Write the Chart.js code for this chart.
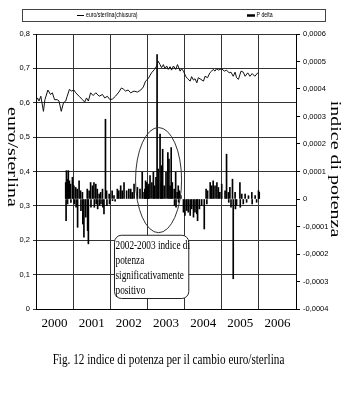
<!DOCTYPE html>
<html><head><meta charset="utf-8">
<script src="https://cdn.jsdelivr.net/npm/chart.js@4.4.1/dist/chart.umd.min.js"></script>
<style>html,body{margin:0;padding:0;background:#fff;}canvas{display:block;}</style>
</head><body>
<canvas id="c" width="360" height="400"></canvas>
<script>
const yearLabels = ['2000','2001','2002','2003','2004','2005','2006'];
const seriesNames = ['euro/sterlina(chiusura)', 'P delta'];
const leftTitle = 'euro/sterlina';
const rightTitle = 'indice di potenza';
const noteLines = ['2002-2003 indice di', 'potenza', 'significativamente', 'positivo'];
const captionText = 'Fig. 12 indice di potenza per il cambio euro/sterlina';

const euroDates = [2000.00,2000.04,2000.08,2000.13,2000.20,2000.24,2000.32,2000.39,2000.44,2000.50,
2000.57,2000.62,2000.68,2000.74,2000.80,2000.84,2000.90,2000.95,2001.02,2001.07,
2001.16,2001.25,2001.31,2001.36,2001.41,2001.47,2001.54,2001.61,2001.70,2001.79,
2001.85,2001.92,2001.99,2002.06,2002.14,2002.23,2002.30,2002.35,2002.41,2002.48,
2002.55,2002.64,2002.73,2002.82,2002.89,2002.95,2003.02,2003.11,2003.19,2003.25,
2003.29,2003.34,2003.38,2003.43,2003.47,2003.52,2003.56,2003.61,2003.65,2003.70,
2003.76,2003.81,2003.88,2003.92,2003.97,2004.03,2004.08,2004.15,2004.19,2004.24,
2004.28,2004.33,2004.37,2004.44,2004.51,2004.55,2004.62,2004.68,2004.73,2004.77,
2004.82,2004.86,2004.91,2005.00,2005.07,2005.13,2005.20,2005.25,2005.31,2005.36,
2005.40,2005.45,2005.52,2005.58,2005.63,2005.70,2005.76,2005.82,2005.89,2005.97,2006.00];
const euroValues = [0.605,0.614,0.605,0.619,0.575,0.609,0.637,0.624,0.629,0.609,
0.609,0.605,0.575,0.600,0.605,0.619,0.639,0.634,0.637,0.629,
0.619,0.609,0.602,0.614,0.605,0.629,0.621,0.629,0.619,0.624,
0.614,0.619,0.609,0.611,0.619,0.631,0.643,0.640,0.634,0.637,
0.629,0.634,0.631,0.637,0.646,0.663,0.670,0.687,0.697,0.707,
0.721,0.711,0.702,0.711,0.699,0.707,0.697,0.705,0.695,0.707,
0.697,0.711,0.692,0.699,0.692,0.677,0.670,0.663,0.676,0.666,
0.670,0.658,0.673,0.668,0.663,0.677,0.673,0.687,0.692,0.697,
0.692,0.699,0.695,0.699,0.692,0.695,0.687,0.689,0.677,0.689,
0.673,0.668,0.692,0.689,0.677,0.687,0.677,0.685,0.677,0.687,0.689];

const pDates = [2000.80,2000.81,2000.82,2000.84,2000.85,2000.87,2000.90,2000.93,2000.94,2000.98,
2001.02,2001.03,2001.07,2001.08,2001.11,2001.12,2001.16,2001.20,2001.21,2001.25,
2001.26,2001.29,2001.34,2001.38,2001.39,2001.41,2001.43,2001.47,2001.48,2001.52,
2001.56,2001.57,2001.61,2001.62,2001.65,2001.66,2001.70,2001.71,2001.74,2001.75,
2001.79,2001.80,2001.83,2001.87,2001.90,2001.91,2001.97,2001.98,2002.05,2002.06,
2002.10,2002.13,2002.19,2002.23,2002.28,2002.32,2002.37,2002.44,2002.50,2002.55,
2002.59,2002.64,2002.73,2002.80,2002.86,2002.91,2002.93,2002.95,2002.98,2003.00,
2003.02,2003.04,2003.07,2003.12,2003.16,2003.19,2003.23,2003.26,2003.29,2003.34,
2003.37,2003.38,2003.41,2003.45,2003.50,2003.55,2003.58,2003.61,2003.64,2003.67,
2003.72,2003.73,2003.76,2003.77,2003.80,2003.83,2003.84,2003.86,2003.90,2003.97,
2004.01,2004.06,2004.10,2004.15,2004.19,2004.24,2004.28,2004.33,2004.35,2004.40,
2004.46,2004.53,2004.58,2004.60,2004.62,2004.69,2004.73,2004.77,2004.82,2004.87,
2004.91,2004.95,2005.00,2005.09,2005.13,2005.18,2005.19,2005.22,2005.25,2005.29,
2005.31,2005.36,2005.37,2005.40,2005.49,2005.50,2005.54,2005.58,2005.63,2005.67,
2005.72,2005.81,2005.82,2005.90,2005.94,2005.99,2006.01];
const pValues = [0.60e-4,-0.79e-4,1.03e-4,0.72e-4,-0.18e-4,1.03e-4,0.66e-4,0.54e-4,-0.12e-4,0.79e-4,
0.48e-4,-0.18e-4,0.42e-4,-0.30e-4,0.36e-4,-1.03e-4,0.66e-4,0.30e-4,-0.42e-4,0.24e-4,
-0.91e-4,-1.39e-4,-0.66e-4,0.36e-4,-1.15e-4,-1.63e-4,0.30e-4,0.60e-4,-0.30e-4,0.48e-4,
0.60e-4,-0.30e-4,0.54e-4,-0.18e-4,0.36e-4,-0.36e-4,0.18e-4,-0.24e-4,0.24e-4,-0.18e-4,
0.36e-4,-0.30e-4,-0.54e-4,2.90e-4,0.30e-4,-0.24e-4,0.18e-4,-0.18e-4,0.30e-4,-0.06e-4,
0.12e-4,-0.08e-4,0.36e-4,0.30e-4,0.48e-4,0.30e-4,0.60e-4,0.30e-4,0.36e-4,0.36e-4,
0.24e-4,0.54e-4,0.42e-4,0.36e-4,0.97e-4,0.24e-4,0.36e-4,0.66e-4,0.60e-4,0.42e-4,
0.48e-4,0.54e-4,0.85e-4,0.60e-4,0.97e-4,0.48e-4,0.79e-4,5.25e-4,1.09e-4,2.36e-4,
0.60e-4,1.21e-4,1.81e-4,0.48e-4,0.97e-4,1.69e-4,1.45e-4,0.48e-4,1.87e-4,0.60e-4,
0.36e-4,-0.24e-4,0.97e-4,-0.30e-4,0.24e-4,0.48e-4,-0.12e-4,0.30e-4,0.12e-4,-0.48e-4,
-0.60e-4,-0.42e-4,-0.48e-4,-0.60e-4,-0.36e-4,-0.66e-4,-0.48e-4,-0.54e-4,-0.79e-4,-0.36e-4,
-0.24e-4,-1.09e-4,0.36e-4,-0.18e-4,0.30e-4,0.60e-4,0.48e-4,0.66e-4,0.48e-4,0.60e-4,
0.42e-4,0.24e-4,0.54e-4,0.30e-4,1.63e-4,0.24e-4,-0.12e-4,0.42e-4,-0.30e-4,0.72e-4,
-2.90e-4,0.24e-4,-0.36e-4,-0.24e-4,0.60e-4,-0.30e-4,0.18e-4,-0.18e-4,0.18e-4,-0.12e-4,
0.12e-4,0.24e-4,-0.18e-4,0.12e-4,-0.12e-4,0.30e-4,0.24e-4];

// annotation placement in data units (x: year, y: left axis value)
const ellipseSpec = {x: 2003.30, y: 0.375, dx: 0.62, dy: 0.153};
const noteBox = {x0: 2002.10, x1: 2004.10, y0: 0.216, y1: 0.032};

const SERIF = '"Liberation Serif", "Times New Roman", serif';
const NARROW = '"Liberation Sans Narrow", "Arial Narrow", "Liberation Sans", sans-serif';
const SANS = '"Liberation Sans", Arial, sans-serif';

function fmtComma(v, d) {
  const f = Math.pow(10, d);
  const r = Math.round(v * f);
  if (r === 0) return '0';
  return (r / f).toFixed(d).replace('.', ',');
}

function drawScaledText(ctx, text, x, y, font, sx, align) {
  ctx.save();
  ctx.translate(x, y);
  ctx.scale(sx, 1);
  ctx.font = font;
  ctx.textAlign = align || 'left';
  ctx.textBaseline = 'middle';
  ctx.fillText(text, 0, 0);
  ctx.restore();
}

const decor = {
  id: 'decor',
  afterDraw(chart) {
    const ctx = chart.ctx;
    const xs = chart.scales.xd, ys = chart.scales.y;
    ctx.save();
    ctx.fillStyle = '#000';

    // ellipse highlight
    const cx = xs.getPixelForValue(ellipseSpec.x), cy = ys.getPixelForValue(ellipseSpec.y);
    const rx = Math.abs(xs.getPixelForValue(ellipseSpec.x + ellipseSpec.dx) - cx);
    const ry = Math.abs(ys.getPixelForValue(ellipseSpec.y + ellipseSpec.dy) - cy);
    ctx.beginPath();
    ctx.ellipse(cx, cy, rx, ry, 0, 0, Math.PI * 2);
    ctx.strokeStyle = '#333';
    ctx.lineWidth = 1;
    ctx.stroke();

    // note box
    const bx0 = xs.getPixelForValue(noteBox.x0), bx1 = xs.getPixelForValue(noteBox.x1);
    const by0 = ys.getPixelForValue(noteBox.y0), by1 = ys.getPixelForValue(noteBox.y1);
    ctx.beginPath();
    ctx.roundRect(bx0 + 0.5, by0 + 0.5, bx1 - bx0, by1 - by0, 7);
    ctx.fillStyle = '#fff';
    ctx.fill();
    ctx.strokeStyle = '#222';
    ctx.stroke();
    ctx.fillStyle = '#000';
    noteLines.forEach((t, i) => {
      drawScaledText(ctx, t, bx0 + 1.5, by0 + 11 + i * 15, '12.5px ' + SERIF, 0.74, 'left');
    });

    // legend box
    ctx.strokeStyle = '#444';
    ctx.lineWidth = 1;
    ctx.strokeRect(22.5, 9.5, 303, 12);
    const ds = chart.data.datasets;
    const legendY = 15.5;
    ctx.strokeStyle = '#000';
    ctx.lineWidth = 1;
    ctx.beginPath(); ctx.moveTo(77, legendY); ctx.lineTo(84, legendY); ctx.stroke();
    drawScaledText(ctx, ds[0].label, 86, legendY, '7px ' + SANS, 0.74, 'left');
    ctx.lineWidth = 2.5;
    ctx.beginPath(); ctx.moveTo(247, legendY); ctx.lineTo(255, legendY); ctx.stroke();
    drawScaledText(ctx, ds[1].label, 256.5, legendY, '7px ' + SANS, 0.74, 'left');

    // axis titles (both read top-to-bottom)
    [[leftTitle, 12, 157], [rightTitle, 335, 169]].forEach(([t, x, y]) => {
      ctx.save();
      ctx.translate(x, y);
      ctx.rotate(Math.PI / 2);
      ctx.scale(1, 0.72);
      ctx.font = '20px ' + SERIF;
      ctx.textAlign = 'center';
      ctx.textBaseline = 'middle';
      ctx.fillStyle = '#000';
      ctx.fillText(t, 0, 0);
      ctx.restore();
    });

    // caption
    drawScaledText(ctx, captionText, 168.5, 360, '14px ' + SERIF, 0.8, 'center');
    ctx.restore();
  }
};

new Chart(document.getElementById('c'), {
  type: 'bar',
  data: {
    labels: yearLabels,
    datasets: [
      { type: 'line', label: seriesNames[0],
        data: euroDates.map((d, i) => ({x: d, y: euroValues[i]})),
        xAxisID: 'xd', yAxisID: 'y', borderColor: '#111', borderWidth: 1,
        pointRadius: 0, tension: 0, fill: false, order: 1 },
      { type: 'bar', label: seriesNames[1],
        data: pDates.map((d, i) => ({x: d, y: pValues[i]})),
        xAxisID: 'xd', yAxisID: 'y2', backgroundColor: '#000', borderWidth: 0,
        barThickness: 1, order: 2 }
    ]
  },
  options: {
    responsive: false, animation: false, devicePixelRatio: 1,
    layout: {padding: {top: 34, bottom: 61, left: 0, right: 0}},
    plugins: {legend: {display: false}, tooltip: {enabled: false}, title: {display: false}},
    scales: {
      x: { type: 'category', position: 'bottom', offset: true,
        grid: {offset: true, color: '#333', drawTicks: false},
        border: {color: '#000'},
        ticks: {font: {family: SERIF, size: 13}, color: '#000', padding: 7, maxRotation: 0, autoSkip: false},
        afterFit(s) { s.height = 30; } },
      xd: { type: 'linear', min: 2000, max: 2007, display: false, offset: false },
      y: { type: 'linear', position: 'left', min: 0, max: 0.8,
        ticks: {stepSize: 0.1, callback: v => fmtComma(v, 1), font: {family: NARROW, size: 7.5}, color: '#000', padding: 3},
        grid: {color: '#333', tickLength: 3},
        border: {color: '#000'},
        afterFit(s) { s.width = 36; } },
      y2: { type: 'linear', position: 'right', min: -0.0004, max: 0.0006,
        ticks: {stepSize: 0.0001, callback: v => fmtComma(v, 4), font: {family: NARROW, size: 7.5}, color: '#000', padding: 3},
        grid: {drawOnChartArea: false, color: '#000', tickLength: 4},
        border: {color: '#000'},
        afterFit(s) { s.width = 64; } }
    }
  },
  plugins: [decor]
});
</script>
</body></html>
